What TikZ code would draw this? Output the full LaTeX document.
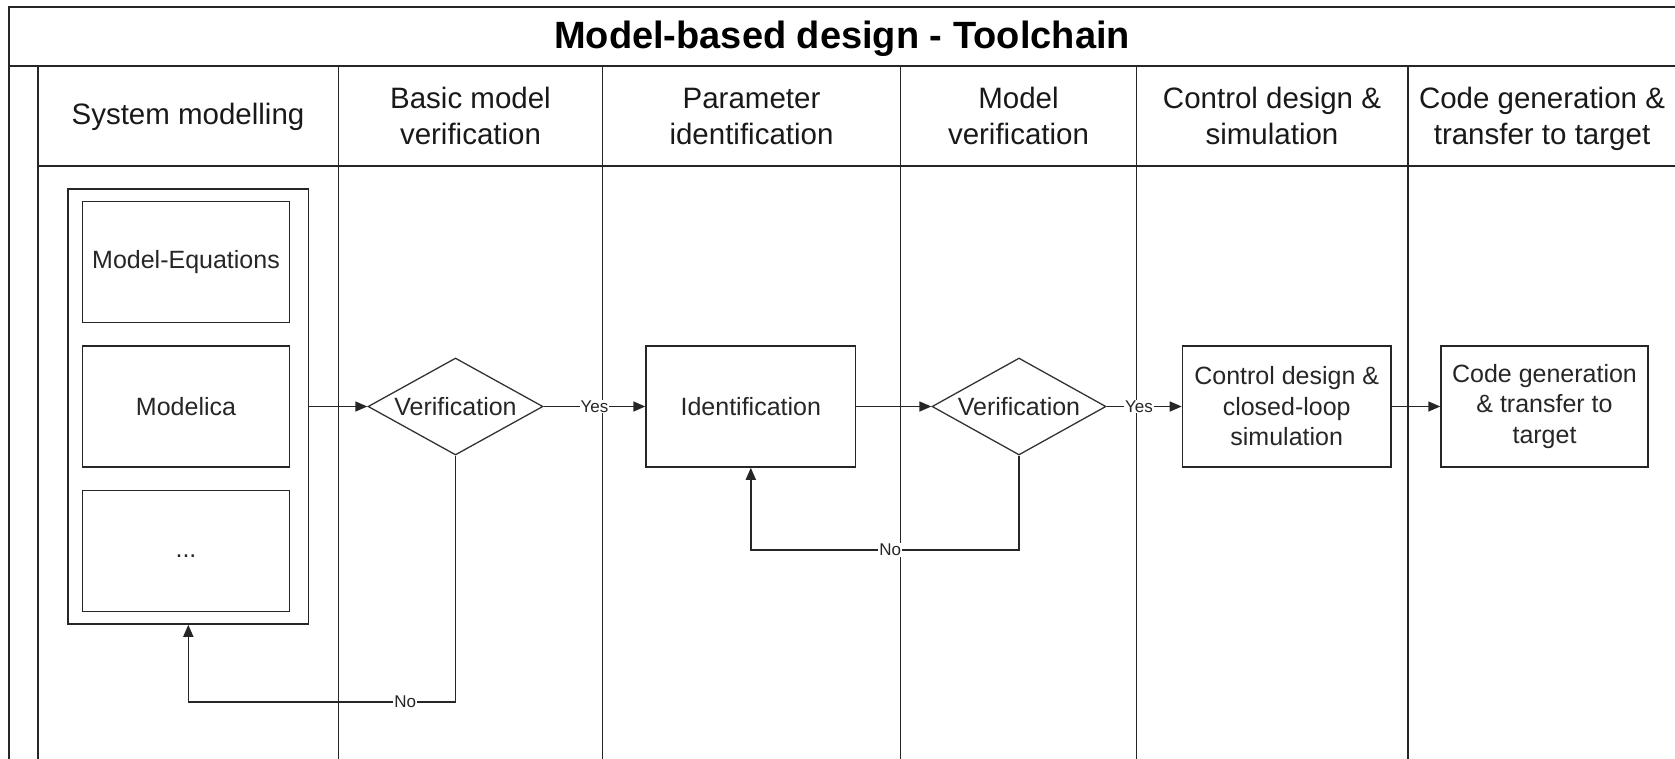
\documentclass[tikz,border=0pt]{standalone}
\usepackage{fontspec}
\setmainfont{Liberation Sans}
\usetikzlibrary{arrows.meta,shapes.geometric}
\newcommand{\ttlfont}   {\fontsize{38}{44}\bfseries\selectfont}
\newcommand{\hdfont}    {\fontsize{29.5}{36}\selectfont}
\newcommand{\bxfont}    {\fontsize{25}{30.5}\selectfont}
\newcommand{\lbfont}    {\fontsize{17}{19}\selectfont}

\begin{document}
\begin{tikzpicture}[x=1pt,y=-1pt,
   lane/.style={draw=black!85,line width=1.6pt},
   box/.style={draw=black!85,line width=1.5pt,rectangle,inner sep=0pt,
      align=center,font=\bxfont,text=black!85,minimum width=207pt,minimum height=121pt},
   dec/.style={draw=black!80,line width=1.3pt,diamond,aspect=1.8,inner sep=0pt,
      font=\bxfont,text=black!85,minimum width=175pt,minimum height=97pt},
   arr/.style={draw=black!85,line width=1.5pt,-{Triangle[length=12pt,width=10pt]}},
   lbl/.style={fill=white,inner sep=1pt,font=\lbfont,text=black!85},
   hd/.style={align=center,font=\hdfont,text=black!90}]
   \useasboundingbox (0,0) rectangle (1675,758);
   \clip (0,0) rectangle (1675,758);
   % pool frame and swimlanes
   \draw[lane] (1680,7) -- (9,7) -- (9,760);
   \draw[lane] (9,66) -- (1680,66);
   \draw[lane] (38,66) -- (38,760);
   \draw[lane] (38,166) -- (1680,166);
   \foreach \x in {338.6,602.5,900.5,1136.6,1407.9}
      \draw[lane] (\x,66) -- (\x,760);
   \node[font=\ttlfont,text=black] (title) at (842,39) {Model-based design - Toolchain};
   \node[hd] (hsys)  at (188,117)    {System modelling};
   \node[hd] (hbas)  at (470.5,116)  {Basic model\\verification};
   \node[hd] (hpar)  at (751.5,116)  {Parameter\\identification};
   \node[hd] (hver)  at (1018.5,116) {Model\\verification};
   \node[hd] (hctrl) at (1272,116)   {Control design \&\\simulation};
   \node[hd] (hcode) at (1542,119)   {Code generation \&\\transfer to target};
   % modelling block
   \node[box,minimum width=240.5pt,minimum height=435pt] (sysbox) at (188.3,406.5) {};
   \node[box] (eqbox)  at (186,262)   {Model-Equations};
   \node[box] (modbox) at (186,406.5) {Modelica};
   \node[box] (etcbox) at (186,551)   {...\vphantom{Mg}};
   % flow
   \node[dec] (ver1)  at (455.5,406.5) {Verification};
   \node[box,minimum width=209.5pt] (ident) at (750.8,406.5) {Identification};
   \node[dec,minimum width=174pt] (ver2) at (1019,406.5) {Verification};
   \node[box,minimum width=208.5pt] (ctrl) at (1286.7,406.5) {Control design \&\\closed-loop\\simulation};
   \node[box] (code) at (1544.5,406.5) {Code generation\\\& transfer to\\target};
   \coordinate (no1) at (455.5,702);
   \coordinate (no2) at (1019,550);
   \draw[arr] (sysbox.east) -- (ver1.west);
   \draw[arr] (ver1.east) -- node[lbl]{Yes} (ident.west);
   \draw[arr] (ident.east) -- (ver2.west);
   \draw[arr] (ver2.east) -- node[lbl,pos=0.43]{Yes} (ctrl.west);
   \draw[arr] (ctrl.east) -- (code.west);
   \draw[arr] (ver1.south) -- (no1) -| node[lbl,pos=0.094]{No} (sysbox.south);
   \draw[arr] (ver2.south) -- (no2) -| node[lbl,pos=0.24]{No} (ident.south);
\end{tikzpicture}
\end{document}
